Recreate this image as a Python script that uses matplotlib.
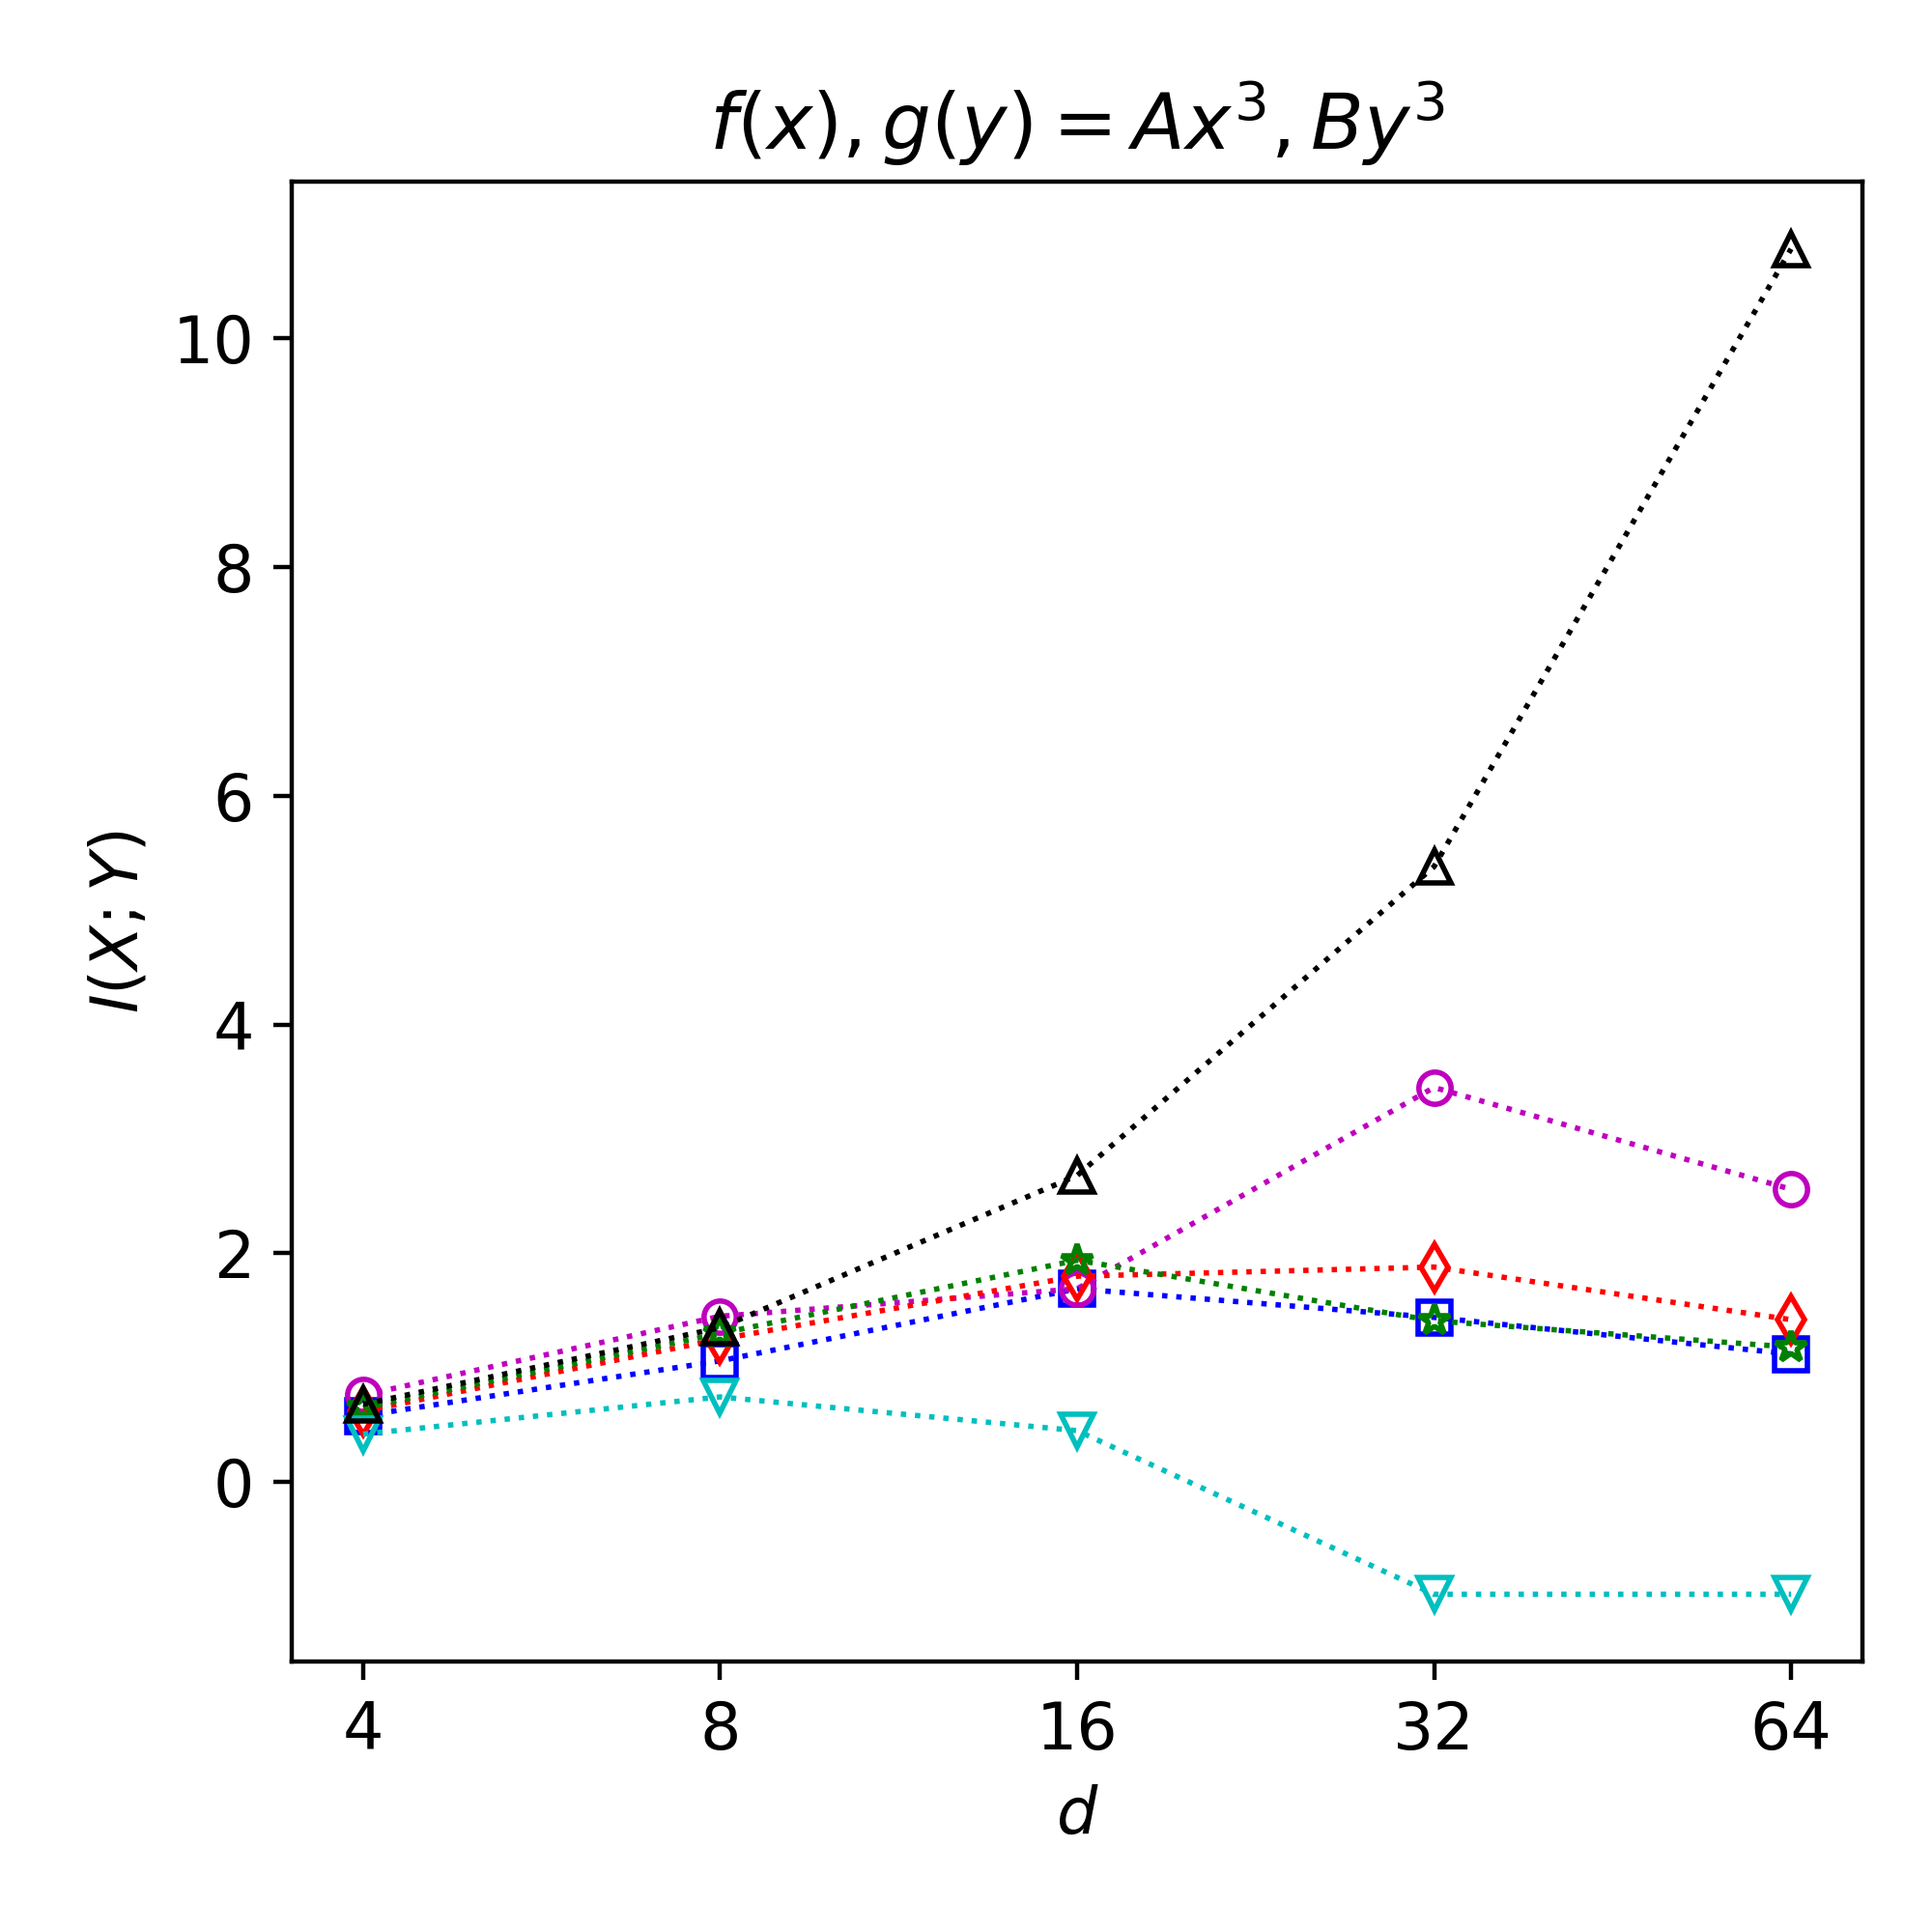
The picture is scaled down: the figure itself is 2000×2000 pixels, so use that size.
"""I(X;Y) vs d for f(x), g(y) = Ax^3, By^3."""

import matplotlib
matplotlib.use('Agg')
import matplotlib.pyplot as plt
from matplotlib.ticker import NullLocator

d = [4, 8, 16, 32, 64]

mi_blue = [0.58, 1.06, 1.69, 1.44, 1.12]
mi_magenta = [0.76, 1.45, 1.69, 3.45, 2.56]
mi_red = [0.62, 1.25, 1.80, 1.88, 1.42]
mi_green = [0.65, 1.30, 1.94, 1.41, 1.18]
mi_cyan = [0.42, 0.745, 0.45, -0.98, -0.98]
mi_black = [0.68, 1.35, 2.68, 5.38, 10.78]

series = [
    (mi_blue, 'bs'),
    (mi_magenta, 'mo'),
    (mi_red, 'rd'),
    (mi_green, 'g*'),
    (mi_cyan, 'cv'),
    (mi_black, 'k^'),
]

plt.rcParams['font.size'] = 12

fig, ax = plt.subplots(figsize=(5, 5))
fig.subplots_adjust(left=0.151, right=0.964, bottom=0.140, top=0.906)

for vals, fmt in series:
    ax.plot(d, vals, fmt + ':', markerfacecolor='none', markersize=6,
            markeredgewidth=1.0, linewidth=1.0)

ax.set_xscale('log', base=2)
ax.set_xticks(d)
ax.set_xticklabels([str(v) for v in d])
ax.xaxis.set_minor_locator(NullLocator())

ax.set_xlabel(r'$d$')
ax.set_ylabel(r'$I(X;Y)$')
ax.set_title(r'$f(x), g(y) = Ax^3, By^3$', fontsize=14.4)

fig.savefig('out.png', dpi=400)
plt.close(fig)
